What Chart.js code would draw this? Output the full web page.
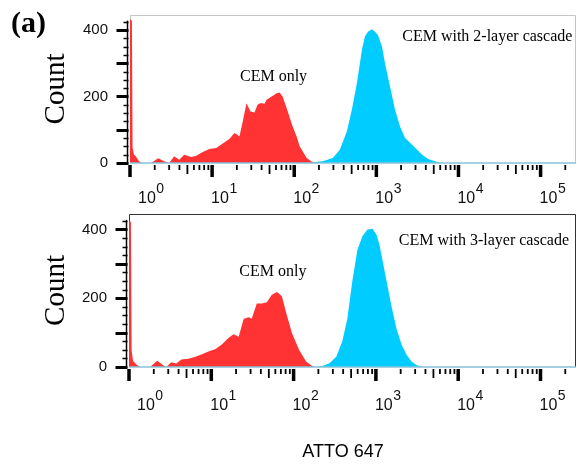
<!DOCTYPE html>
<html>
<head>
<meta charset="utf-8">
<script src="https://cdn.jsdelivr.net/npm/chart.js@4.4.1/dist/chart.umd.min.js"></script>
<style>
  html, body { margin: 0; padding: 0; background: #fff; }
  #wrap { position: relative; width: 577px; height: 464px; overflow: hidden; background: #fff; }
  #wrap canvas { position: absolute; left: 0; }
  .txt { position: absolute; color: #000; white-space: nowrap; }
</style>
</head>
<body>
<div id="wrap">
  <canvas id="panel-top" width="577" height="208" style="top:0"></canvas>
  <canvas id="panel-bottom" width="577" height="256" style="top:208px"></canvas>
  <div class="txt" style="left:11px;top:5px;font:bold 30px 'Liberation Serif','Times New Roman',serif;">(a)</div>
</div>
<script>
// ---- data (x = ATTO 647 intensity, y = count) ----
const xMin = 1;
const xMax = 270000;
const xMajor = [1, 10, 100, 1000, 10000, 100000];
const xExponents = ['0', '1', '2', '3', '4', '5'];
const yLabels = [0, 200, 400];
const yMax = 445;
const yAxisTop = 425;

// top panel: CEM only vs CEM with 2-layer cascade
const topRedX = [1, 1.055, 1.075, 1.12, 1.174, 1.288, 1.402, 1.806, 2.199, 2.604, 2.998, 3.451, 3.972, 4.571, 5.568, 6.41,
  7.59, 9.24, 11.25, 13.32, 16.23, 18.68, 20.33, 21.5, 23.4, 26.2, 29.3, 32.8, 35.7, 38.3, 41.1, 43.5, 46.0,
  49.4, 52.9, 57.4, 60.9, 66.3, 72.2, 80.7, 95.6, 107, 116.4, 141.8, 167.9, 187.8];
const topRedCount = [432, 428, 45, 25, 20, 5, 0, 0, 14, 5, 0, 20, 10, 25, 18, 22,
  32, 42, 45, 58, 72, 90, 85, 80, 120, 180, 155, 152, 175, 180, 180, 178, 190,
  195, 200, 205, 210, 212, 200, 165, 110, 80, 50, 15, 2, 0];
const topBlueX = [167.9, 222.5, 294.8, 358.9, 437.1, 503.1, 579.3, 666.8, 725.4, 789.6, 883.1, 961.4, 1046,
  1171, 1274, 1467, 1689, 1943, 2237, 2724, 3135, 3610, 4273, 5506, 6520, 270000];
const topBlueCount = [2, 5, 15, 40, 95, 160, 240, 340, 380, 395, 402, 395, 385,
  350, 300, 230, 160, 110, 75, 55, 40, 25, 12, 3, 0, 0];

// bottom panel: CEM only vs CEM with 3-layer cascade
const botRedX = [1, 1.055, 1.075, 1.119, 1.218, 1.363, 1.806, 2.199, 2.604, 2.834, 3.263, 3.755, 4.322, 5.265,
  6.41, 7.59, 9.24, 11.25, 13.32, 16.23, 18.68, 21.5, 24.76, 28.5, 31.0, 35.7, 41.1, 47.3, 54.4, 62.7,
  66.3, 72.2, 80.7, 95.6, 116.4, 141.8, 167.9, 187.8];
const botRedCount = [426, 422, 50, 18, 8, 0, 0, 18, 5, 0, 14, 10, 22, 24,
  30, 36, 45, 52, 65, 85, 95, 88, 140, 145, 140, 185, 185, 188, 210, 218,
  214, 205, 160, 98, 50, 16, 3, 0];
const botBlueX = [187.8, 222.5, 271, 329.9, 390.6, 449.6, 517.6, 595.7, 685.5, 789.6, 908.6, 1017, 1107,
  1204, 1348, 1551, 1786, 2056, 2366, 2724, 3135, 3712, 270000];
const botBlueCount = [0, 3, 10, 30, 75, 140, 250, 340, 380, 400, 402, 385, 355,
  310, 250, 175, 110, 65, 35, 15, 5, 0, 0];

const RED = '#ff3333';
const CYAN = '#00ccff';
const SERIF = "'Liberation Serif', 'Times New Roman', serif";
const SANS = "'Liberation Sans', Arial, Helvetica, sans-serif";

function pairs(xs, ys) {
  return xs.map((x, i) => ({ x: x, y: ys[i] }));
}

// tick marks, frame and superscript decade labels
const axisMarks = {
  id: 'axisMarks',
  beforeDatasetsDraw(chart, args, opts) {
    // frame round the plot, under the histograms
    const { ctx, chartArea: a } = chart;
    ctx.save();
    ctx.strokeStyle = opts.frameColor;
    ctx.lineWidth = 1;
    ctx.beginPath();
    ctx.moveTo(a.left + 0.5, a.bottom);
    ctx.lineTo(a.left + 0.5, a.top + 0.5);
    ctx.lineTo(a.right - 0.5, a.top + 0.5);
    ctx.lineTo(a.right - 0.5, a.bottom);
    ctx.stroke();
    ctx.restore();
  },
  afterDatasetsDraw(chart, args, opts) {
    const { ctx, chartArea: a, scales: { x, y } } = chart;
    const line = (x1, y1, x2, y2) => { ctx.beginPath(); ctx.moveTo(x1, y1); ctx.lineTo(x2, y2); ctx.stroke(); };
    ctx.save();

    ctx.strokeStyle = '#86c3da';
    ctx.lineWidth = 1.5;
    line(a.left, a.bottom, a.right, a.bottom);

    // y axis
    ctx.strokeStyle = '#000';
    const ax = a.left - 2.5;
    ctx.lineWidth = 1.5;
    line(ax, y.getPixelForValue(0) + 1, ax, y.getPixelForValue(yAxisTop) - 1);
    for (let v = 0; v <= yAxisTop; v += 25) {
      const py = Math.round(y.getPixelForValue(v)) + 0.5;
      const major = v % 100 === 0;
      ctx.lineWidth = major ? 3 : 1.5;
      line(ax - (major ? 11 : 4), py, ax + 1, py);
    }

    // x ticks: decades long, fives medium, the rest short
    for (let k = 0; k <= 5; k++) {
      for (let m = 1; m <= 9; m++) {
        const v = m * Math.pow(10, k);
        if (v > x.max) break;
        const px = x.getPixelForValue(v);
        const len = m === 1 ? 12 : (m === 5 ? 9 : 5);
        ctx.lineWidth = m === 1 ? 3.5 : 1.8;
        line(px, a.bottom + 2, px, a.bottom + 2 + len);
      }
    }

    // labels 10^n
    ctx.fillStyle = '#111';
    ctx.textAlign = 'left';
    ctx.textBaseline = 'alphabetic';
    xMajor.forEach((v, i) => {
      const px = Math.max(x.getPixelForValue(v) - 1, a.left + 8);
      const base = a.bottom + opts.labelDrop;
      ctx.font = '16px ' + SANS;
      ctx.fillText('10', px, base);
      const w = ctx.measureText('10').width;
      ctx.font = '14px ' + SANS;
      ctx.fillText(xExponents[i], px + w + 0.5, base - 10);
    });
    ctx.restore();
  }
};

// text notes placed in data coordinates
const notes = {
  id: 'notes',
  afterDatasetsDraw(chart, args, opts) {
    const { ctx, scales: { x, y } } = chart;
    ctx.save();
    ctx.fillStyle = '#000';
    ctx.font = '16px ' + SERIF;
    ctx.textBaseline = 'alphabetic';
    opts.items.forEach(n => {
      ctx.textAlign = n.align;
      ctx.fillText(n.text, x.getPixelForValue(n.x), y.getPixelForValue(n.y));
    });
    ctx.restore();
  }
};

function histogram(id, p) {
  return new Chart(document.getElementById(id), {
    type: 'line',
    data: {
      datasets: [
        { label: 'CEM only', data: pairs(p.redX, p.redY), backgroundColor: RED, fill: 'origin', borderWidth: 0, pointRadius: 0, tension: 0 },
        { label: p.cascade, data: pairs(p.blueX, p.blueY), backgroundColor: CYAN, fill: 'origin', borderWidth: 0, pointRadius: 0, tension: 0 }
      ]
    },
    options: {
      responsive: false,
      animation: false,
      events: [],
      layout: { padding: { top: p.top, right: 1, left: 0, bottom: 0 } },
      plugins: {
        legend: { display: false },
        tooltip: { enabled: false },
        axisMarks: { frameColor: p.frame, labelDrop: p.labelDrop },
        notes: {
          items: [
            { text: 'CEM only', x: 56, y: p.onlyY, align: 'center' },
            { text: p.cascade, x: p.cascadeX, y: p.cascadeY, align: 'right' }
          ]
        }
      },
      scales: {
        x: {
          type: 'logarithmic',
          min: xMin,
          max: xMax,
          grid: { display: false, drawTicks: false },
          border: { display: false },
          ticks: { display: false },
          afterBuildTicks: s => { s.ticks = xMajor.map(v => ({ value: v })); },
          afterFit: s => { s.height = p.xHeight; s.paddingLeft = 0; s.paddingRight = 0; }
        },
        y: {
          min: 0,
          max: yMax,
          grid: { display: false, drawTicks: false },
          border: { display: false },
          ticks: { color: '#111', font: { family: SANS, size: 15 }, padding: 22 },
          title: { display: true, text: 'Count', color: '#000', font: { family: SERIF, size: 29 }, padding: { top: 39, bottom: 0 } },
          afterBuildTicks: s => { s.ticks = yLabels.map(v => ({ value: v })); },
          afterFit: s => { s.width = p.left; s.paddingTop = 0; s.paddingBottom = 0; }
        }
      }
    },
    plugins: [axisMarks, notes]
  });
}

histogram('panel-top', {
  redX: topRedX, redY: topRedCount, blueX: topBlueX, blueY: topBlueCount,
  cascade: 'CEM with 2-layer cascade', cascadeX: 244000, cascadeY: 367, onlyY: 246,
  top: 15, left: 130, xHeight: 45, labelDrop: 40, frame: '#c6c6c6'
});

histogram('panel-bottom', {
  redX: botRedX, redY: botRedCount, blueX: botBlueX, blueY: botBlueCount,
  cascade: 'CEM with 3-layer cascade', cascadeX: 222000, cascadeY: 354, onlyY: 265,
  top: 6, left: 129, xHeight: 97, labelDrop: 43, frame: '#333'
});
</script>
<div class="txt" style="left:0;width:686px;top:441px;text-align:center;font:18px 'Liberation Sans',Arial,sans-serif;position:absolute;">ATTO 647</div>
</body>
</html>
